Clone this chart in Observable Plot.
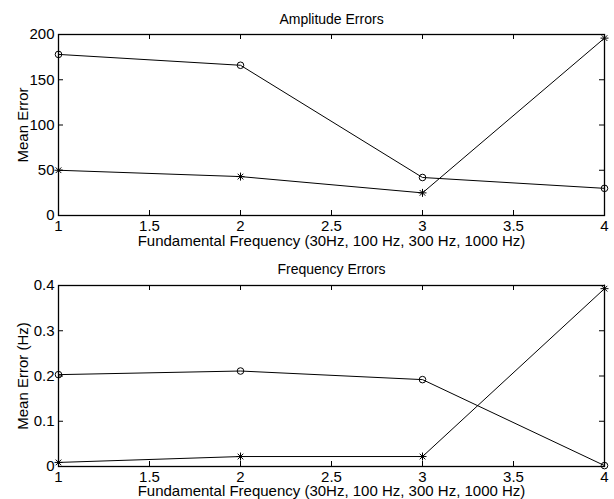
<!DOCTYPE html>
<html>
<head>
<meta charset="utf-8">
<script src="https://cdn.jsdelivr.net/npm/d3@7"></script>
<script src="https://cdn.jsdelivr.net/npm/@observablehq/plot@0.6"></script>
<style>
  body { margin: 0; background: #fff; }
  #chart { width: 614px; }
  #chart svg { display: block; }
</style>
</head>
<body>
<div id="chart"></div>
<script>
// Test index (1..4 ↔ 30 Hz, 100 Hz, 300 Hz, 1000 Hz)
const runs = [1, 2, 3, 4];
const xTicks = [1, 1.5, 2, 2.5, 3, 3.5, 4];
const xLabel = "Fundamental Frequency (30Hz, 100 Hz, 300 Hz, 1000 Hz)";

// Amplitude errors: "o" series and "*" series
const ampCircle = [178, 166, 42, 30];
const ampStar = [50, 43, 25, 196];
const ampTicks = [0, 50, 100, 150, 200];

// Frequency errors (Hz): "o" series and "*" series
const freqCircle = [0.203, 0.211, 0.192, 0.002];
const freqStar = [0.009, 0.022, 0.022, 0.393];
const freqTicks = [0, 0.1, 0.2, 0.3, 0.4];

// MATLAB-style "*" marker: a plus overlaid with a cross
const asterisk = {
  draw(ctx, size) {
    const r = Math.sqrt(size / Math.PI);
    const d = r * Math.SQRT1_2;
    ctx.moveTo(-r, 0); ctx.lineTo(r, 0);
    ctx.moveTo(0, -r); ctx.lineTo(0, r);
    ctx.moveTo(-d, -d); ctx.lineTo(d, d);
    ctx.moveTo(-d, d); ctx.lineTo(d, -d);
  }
};

const plain = d => String(d);

function panel({title, yLabel, circle, star, yDomain, yTicks, height, marginTop, marginBottom, titleDy, labelDy}) {
  const width = 614, marginLeft = 58, marginRight = 10;
  const innerH = height - marginTop - marginBottom;
  const innerW = width - marginLeft - marginRight;
  const tick = 5;
  const rows = s => runs.map((x, i) => ({x, y: s[i]}));
  return Plot.plot({
    width, height, marginTop, marginBottom, marginLeft, marginRight,
    style: {fontFamily: "'Liberation Sans', Arial, sans-serif", fontSize: "15px", color: "black", background: "white", overflow: "visible"},
    x: {domain: [1, 4]},
    y: {domain: yDomain},
    marks: [
      Plot.axisX(xTicks, {tickSize: 0, tickPadding: 5, tickFormat: plain, label: null}),
      Plot.axisY(yTicks, {tickSize: 0, tickPadding: 4, tickFormat: plain, label: null}),
      // inward ticks on all four sides
      Plot.tickX(xTicks, {x: d => d, insetTop: innerH - tick, stroke: "black"}),
      Plot.tickX(xTicks, {x: d => d, insetBottom: innerH - tick, stroke: "black"}),
      Plot.tickY(yTicks, {y: d => d, insetRight: innerW - tick, stroke: "black"}),
      Plot.tickY(yTicks, {y: d => d, insetLeft: innerW - tick, stroke: "black"}),
      Plot.frame({stroke: "black", strokeWidth: 1.3}),
      Plot.line(rows(circle), {x: "x", y: "y", stroke: "black", strokeWidth: 1}),
      Plot.line(rows(star), {x: "x", y: "y", stroke: "black", strokeWidth: 1}),
      Plot.dot(rows(circle), {x: "x", y: "y", r: 3.3, symbol: "circle", fill: "none", stroke: "black", strokeWidth: 1}),
      Plot.dot(rows(star), {x: "x", y: "y", r: 4, symbol: asterisk, fill: "none", stroke: "black", strokeWidth: 1}),
      Plot.text([title], {text: d => d, frameAnchor: "top", dy: titleDy, fontSize: 14, textAnchor: "middle", lineAnchor: "middle"}),
      Plot.text([xLabel], {text: d => d, frameAnchor: "bottom", dy: labelDy, textAnchor: "middle", lineAnchor: "middle"}),
      Plot.text([yLabel], {text: d => d, frameAnchor: "left", dx: -35, rotate: -90, textAnchor: "middle", lineAnchor: "middle"})
    ]
  });
}

const chart = document.getElementById("chart");
chart.append(panel({
  title: "Amplitude Errors", yLabel: "Mean Error",
  circle: ampCircle, star: ampStar, yDomain: [0, 200], yTicks: ampTicks,
  height: 250, marginTop: 34, marginBottom: 35, titleDy: -15.2, labelDy: 25.2
}));
chart.append(panel({
  title: "Frequency Errors", yLabel: "Mean Error (Hz)",
  circle: freqCircle, star: freqStar, yDomain: [0, 0.4], yTicks: freqTicks,
  height: 249, marginTop: 35, marginBottom: 33, titleDy: -15.5, labelDy: 24.2
}));
</script>
</body>
</html>
